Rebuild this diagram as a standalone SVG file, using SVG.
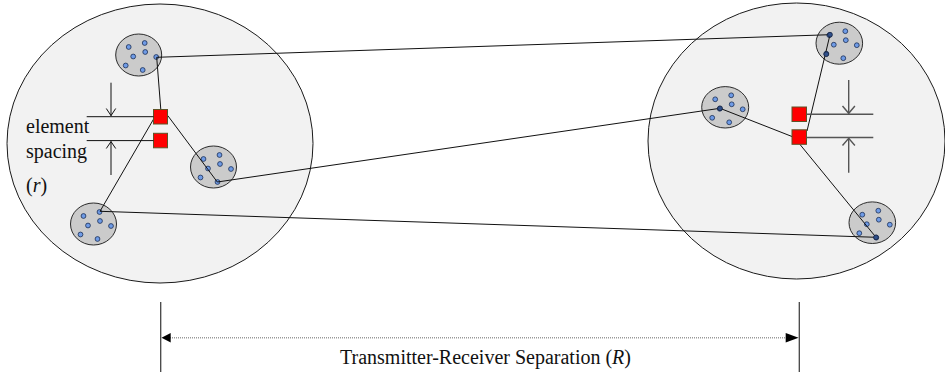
<svg xmlns="http://www.w3.org/2000/svg" width="945" height="374" viewBox="0 0 945 374">
  <defs>
    <style>
      .area { fill: #f2f2f2; stroke: #1a1a1a; stroke-width: 1; }
      .cluster { fill: #cbcbcb; stroke: #2a2a2a; stroke-width: 1; }
      .dot { fill: #6f9be6; stroke: #1b2e55; stroke-width: 0.8; }
      .dot-link { fill: #2f4f8a; stroke: #14213d; stroke-width: 0.8; }
      .ant { fill: #ff0000; stroke: #5e5327; stroke-width: 1; }
      .link { fill: none; stroke: #111; stroke-width: 1; }
      .guide { fill: none; stroke: #111; stroke-width: 1; }
      .guide-r { fill: none; stroke: #555; stroke-width: 1.4; }
      .label { font-family: "Liberation Serif", "Times New Roman", serif; font-size: 20px; fill: #111; }
      .dim { fill: none; stroke: #444; stroke-width: 1.3; }
      .dim-dash { fill: none; stroke: #9a9a9a; stroke-width: 1.6; stroke-dasharray: 1 1; }
      .head { fill: #000; }
    </style>
    <g id="cluster-dots">
      <circle class="dot" cx="-10" cy="-8" r="2.4"/>
      <circle class="dot" cx="6" cy="-12" r="2.4"/>
      <circle class="dot" cx="-5.5" cy="1.5" r="2.4"/>
      <circle class="dot" cx="6.5" cy="-3" r="2.4"/>
      <circle class="dot" cx="17.5" cy="2" r="2.4"/>
      <circle class="dot" cx="-13" cy="10.5" r="2.4"/>
      <circle class="dot" cx="4" cy="15" r="2.4"/>
    </g>
  </defs>

  <!-- transmitter region -->
  <g id="tx-region">
    <ellipse class="area" cx="160" cy="143.5" rx="153" ry="139.5"/>
  </g>
  <!-- receiver region -->
  <g id="rx-region">
    <ellipse class="area" cx="796.5" cy="141" rx="148.5" ry="138"/>
  </g>

  <!-- scatterer clusters -->
  <g id="tx-cluster-top">
    <ellipse class="cluster" cx="138.7" cy="55" rx="23" ry="21"/>
    <use href="#cluster-dots" x="138.7" y="55"/>
  </g>
  <g id="tx-cluster-mid">
    <ellipse class="cluster" cx="213.5" cy="167" rx="23" ry="21"/>
    <use href="#cluster-dots" x="213.5" y="167"/>
  </g>
  <g id="tx-cluster-low">
    <ellipse class="cluster" cx="93.5" cy="224" rx="23" ry="21"/>
    <use href="#cluster-dots" x="93.5" y="224"/>
  </g>
  <g id="rx-cluster-top">
    <ellipse class="cluster" cx="839.3" cy="43.2" rx="23.3" ry="21"/>
    <use href="#cluster-dots" x="839.3" y="43.2"/>
  </g>
  <g id="rx-cluster-mid">
    <ellipse class="cluster" cx="725.2" cy="107.3" rx="23.5" ry="20.7"/>
    <use href="#cluster-dots" x="725.2" y="107.3"/>
  </g>
  <g id="rx-cluster-low">
    <ellipse class="cluster" cx="872.3" cy="222.7" rx="23.3" ry="20.8"/>
    <use href="#cluster-dots" x="872.3" y="222.7"/>
  </g>

  <!-- propagation paths -->
  <g id="connectors">
    <line class="link" x1="156.7" y1="57.3" x2="160.8" y2="109.5"/>
    <line class="link" x1="167.7" y1="115.5" x2="217.3" y2="182"/>
    <line class="link" x1="154.5" y1="117.5" x2="100" y2="211.3"/>
    <line class="link" x1="156.7" y1="57.3" x2="830" y2="34.7"/>
    <line class="link" x1="217.3" y1="182" x2="720" y2="108.3"/>
    <line class="link" x1="100" y1="211.3" x2="876" y2="237.3"/>
    <line class="link" x1="830" y1="34.7" x2="807" y2="131"/>
    <line class="link" x1="720" y1="108.3" x2="792" y2="136.5"/>
    <line class="link" x1="800" y1="144.5" x2="876" y2="237.3"/>
    <circle class="dot-link" cx="830" cy="34.7" r="2.4"/>
    <circle class="dot-link" cx="826.3" cy="54.2" r="2.4"/>
    <circle class="dot-link" cx="720" cy="108.3" r="2.4"/>
    <circle class="dot-link" cx="876" cy="237.3" r="2.4"/>
  </g>

  <!-- antenna elements -->
  <g id="tx-antenna">
    <rect class="ant" x="153.5" y="109.5" width="14" height="14.5"/>
    <rect class="ant" x="153.5" y="133.3" width="14" height="14.5"/>
  </g>
  <g id="rx-antenna">
    <rect class="ant" x="792" y="107" width="14.5" height="14.5"/>
    <rect class="ant" x="792" y="129.8" width="14.5" height="14.5"/>
  </g>

  <!-- element spacing annotation, transmitter side -->
  <g id="tx-spacing">
    <line class="guide" x1="86.7" y1="116.7" x2="153.5" y2="116.7"/>
    <line class="guide" x1="86.7" y1="140.6" x2="153.5" y2="140.6"/>
    <line class="guide" x1="111" y1="82.7" x2="111" y2="116"/>
    <polyline class="guide" points="106.3,108.5 111,115.6 115.7,108.5"/>
    <line class="guide" x1="111" y1="141.3" x2="111" y2="175"/>
    <polyline class="guide" points="106.3,148.5 111,141.6 115.7,148.5"/>
    <text class="label" x="26" y="133">element</text>
    <text class="label" x="26" y="158">spacing</text>
    <text class="label" x="26" y="192">(<tspan font-style="italic">r</tspan>)</text>
  </g>

  <!-- element spacing annotation, receiver side -->
  <g id="rx-spacing">
    <line class="guide-r" x1="806.5" y1="114.2" x2="873.3" y2="114.2"/>
    <line class="guide-r" x1="806.5" y1="137.5" x2="873.3" y2="137.5"/>
    <line class="guide-r" x1="848.7" y1="80" x2="848.7" y2="113.5"/>
    <polyline class="guide-r" points="842.5,106 848.7,113.3 854.9,106"/>
    <line class="guide-r" x1="848.7" y1="138.2" x2="848.7" y2="172.7"/>
    <polyline class="guide-r" points="842.5,145.5 848.7,138.4 854.9,145.5"/>
  </g>

  <!-- separation dimension -->
  <g id="separation">
    <line class="dim" x1="160.7" y1="302" x2="160.7" y2="372"/>
    <line class="dim" x1="799.3" y1="302" x2="799.3" y2="372"/>
    <line class="dim-dash" x1="170" y1="337.7" x2="787" y2="337.7"/>
    <polygon class="head" points="161.5,337.7 170.7,333 170.7,342.4"/>
    <polygon class="head" points="798.6,337.7 785.7,333 785.7,342.4"/>
    <text class="label" x="340" y="364">Transmitter-Receiver Separation (<tspan font-style="italic">R</tspan>)</text>
  </g>
</svg>
